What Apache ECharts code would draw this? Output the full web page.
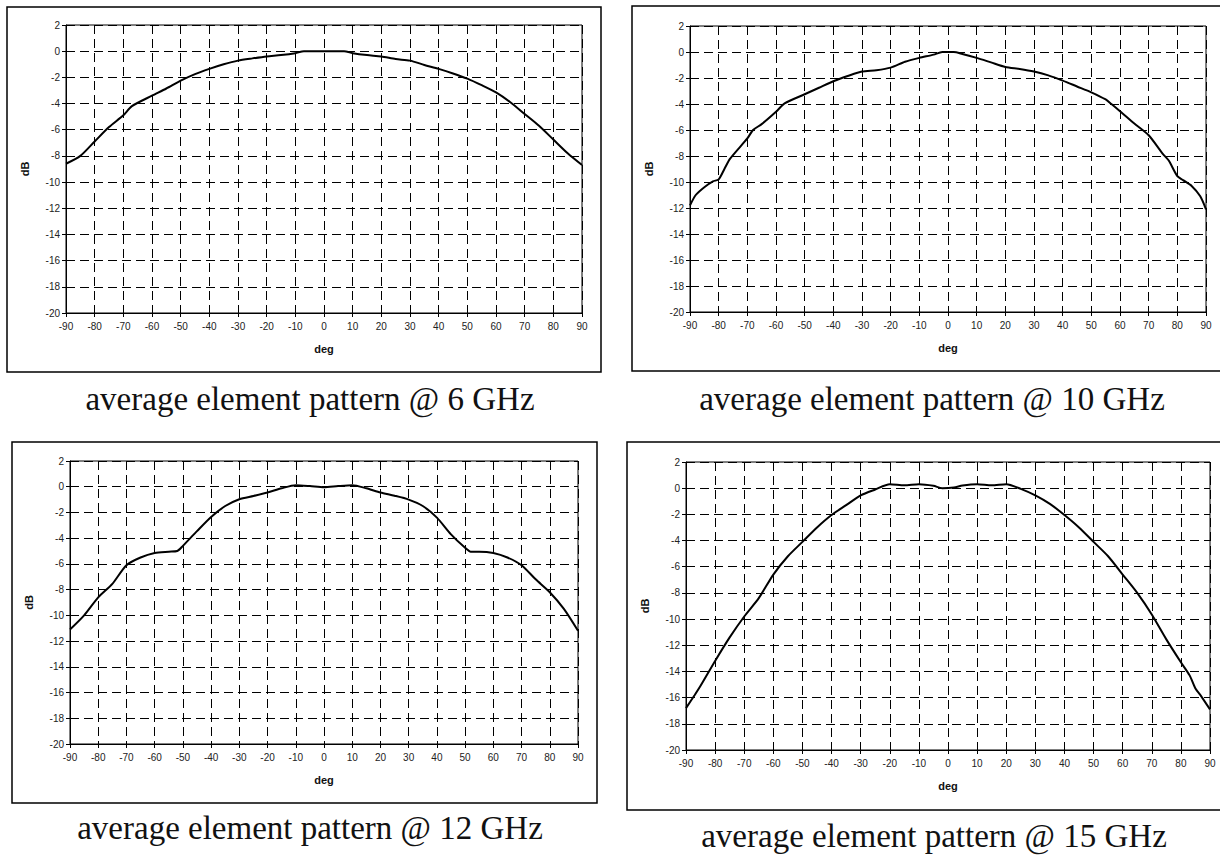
<!DOCTYPE html>
<html>
<head>
<meta charset="utf-8">
<script src="https://cdn.jsdelivr.net/npm/echarts@6/dist/echarts.min.js"></script>
<style>
html,body{margin:0;padding:0;background:#fff;}
#chart{width:1220px;height:855px;}
</style>
</head>
<body>
<div id="chart"></div>
<script>
// ---- data ----
const titles = [
  'average element pattern @ 6 GHz',
  'average element pattern @ 10 GHz',
  'average element pattern @ 12 GHz',
  'average element pattern @ 15 GHz'
];
const xTickMin = -90, xTickMax = 90, xTickStep = 10;
const yTickMin = -20, yTickMax = 2, yTickStep = 2;

const angles6 = [-90,-85,-80,-75,-70,-67,-60,-55,-50,-45,-40,-35,-30,-25,-20,-15,-10,-7,0,7,10,15,20,25,30,35,40,45,50,55,60,65,70,75,80,85,90];
const db6 = [-8.6,-8.0,-6.9,-5.8,-4.9,-4.2,-3.4,-2.85,-2.25,-1.75,-1.35,-1.0,-0.72,-0.55,-0.4,-0.3,-0.15,0,0,0,-0.15,-0.3,-0.4,-0.6,-0.72,-1.05,-1.35,-1.7,-2.1,-2.6,-3.15,-3.9,-4.8,-5.7,-6.75,-7.8,-8.7];

const angles10 = [-90,-88,-85,-82,-80,-78,-76,-70,-68,-65,-60,-57,-50,-45,-40,-35,-30,-25,-20,-15,-10,-5,-2,2,5,10,15,20,25,30,35,40,45,50,55,57,60,65,70,75,77,80,82,85,88,90];
const db10 = [-11.8,-11.0,-10.4,-9.95,-9.8,-9.0,-8.2,-6.65,-6.0,-5.55,-4.6,-3.95,-3.25,-2.75,-2.25,-1.85,-1.5,-1.4,-1.2,-0.75,-0.45,-0.2,0,0,-0.15,-0.45,-0.8,-1.15,-1.3,-1.5,-1.8,-2.2,-2.65,-3.1,-3.65,-4.0,-4.55,-5.5,-6.4,-7.85,-8.35,-9.55,-9.85,-10.3,-11.1,-12.1];

const angles12 = [-90,-85,-80,-75,-70,-65,-60,-55,-52,-50,-45,-40,-35,-30,-25,-20,-15,-10,-5,0,5,10,15,20,25,30,35,40,45,50,52,55,60,65,70,75,80,85,90];
const db12 = [-11.1,-10.0,-8.6,-7.55,-6.1,-5.5,-5.15,-5.05,-5.0,-4.6,-3.45,-2.35,-1.5,-0.97,-0.72,-0.45,-0.12,0.12,0.05,-0.05,0.05,0.12,-0.12,-0.45,-0.7,-1.0,-1.5,-2.4,-3.7,-4.75,-5.05,-5.05,-5.15,-5.5,-6.1,-7.2,-8.2,-9.5,-11.2];

const angles15 = [-90,-87,-85,-80,-75,-70,-65,-60,-55,-50,-45,-40,-35,-30,-25,-20,-15,-10,-5,-2,2,5,10,15,20,25,30,35,40,45,50,55,60,65,70,75,80,83,85,87,90];
const db15 = [-16.8,-15.8,-15.1,-13.2,-11.4,-9.8,-8.4,-6.6,-5.2,-4.1,-3.0,-2.05,-1.3,-0.55,-0.1,0.3,0.22,0.3,0.18,0,0.05,0.2,0.3,0.22,0.3,-0.05,-0.55,-1.2,-2.05,-3.0,-4.1,-5.2,-6.6,-8.0,-9.65,-11.55,-13.3,-14.3,-15.3,-15.9,-16.9];

const panelAngles = [angles6, angles10, angles12, angles15];
const panelValues = [db6, db10, db12, db15];

// ---- layout ----
const grids = [
  {left: 66,  top: 25,  width: 516, height: 288},
  {left: 690, top: 26,  width: 516, height: 286},
  {left: 70,  top: 461, width: 508, height: 283},
  {left: 686, top: 462, width: 524, height: 288}
];
const frames = [
  {x: 7,   y: 7,   w: 594, h: 365},
  {x: 632, y: 6,   w: 600, h: 365},
  {x: 12,  y: 442, w: 585, h: 361},
  {x: 627, y: 442, w: 605, h: 368}
];
const titlePos = [
  {x: 305, y: 398},
  {x: 927, y: 398},
  {x: 305, y: 827},
  {x: 929, y: 835}
];

const labelFont = 'Liberation Sans, Arial, sans-serif';
const dash = [9, 5];

const option = {
  animation: false,
  backgroundColor: '#fff',
  grid: grids.map(g => ({left: g.left, top: g.top, width: g.width, height: g.height,
    show: true, borderColor: '#000', borderWidth: 1, backgroundColor: 'transparent'})),
  xAxis: grids.map((g, i) => ({
    gridIndex: i, type: 'value', min: xTickMin, max: xTickMax, interval: xTickStep,
    name: 'deg', nameLocation: 'middle', nameGap: 30,
    nameTextStyle: {fontFamily: labelFont, fontWeight: 'bold', fontSize: 11, color: '#111'},
    axisLine: {show: true, onZero: false, lineStyle: {color: '#000', width: 1}},
    axisTick: {show: true, length: 4, inside: false, lineStyle: {color: '#000'}},
    axisLabel: {fontFamily: labelFont, fontSize: 10, color: '#222', margin: 8},
    splitLine: {show: true, lineStyle: {color: '#000', width: 1, type: dash}}
  })),
  yAxis: grids.map((g, i) => ({
    gridIndex: i, type: 'value', min: yTickMin, max: yTickMax, interval: yTickStep,
    name: 'dB', nameLocation: 'middle', nameGap: 36, nameRotate: 90,
    nameTextStyle: {fontFamily: labelFont, fontWeight: 'bold', fontSize: 11, color: '#111'},
    axisLine: {show: true, onZero: false, lineStyle: {color: '#000', width: 1}},
    axisTick: {show: true, length: 4, inside: false, lineStyle: {color: '#000'}},
    axisLabel: {fontFamily: labelFont, fontSize: 10, color: '#222', margin: 6},
    splitLine: {show: true, lineStyle: {color: '#000', width: 1, type: dash}}
  })),
  series: panelAngles.map((ang, i) => ({
    type: 'line', xAxisIndex: i, yAxisIndex: i,
    data: ang.map((a, k) => [a, panelValues[i][k]]),
    showSymbol: false, smooth: 0.25, clip: true,
    lineStyle: {color: '#000', width: 2}
  })),
  title: titles.map((t, i) => ({
    text: t, left: titlePos[i].x, top: titlePos[i].y - 21, textAlign: 'center',
    textStyle: {fontFamily: 'Liberation Serif, Times New Roman, serif', fontWeight: 'normal', fontSize: 33, color: '#111'}
  })),
  graphic: frames.map(f => ({
    type: 'rect', silent: true,
    shape: {x: f.x, y: f.y, width: f.w, height: f.h},
    style: {fill: 'none', stroke: '#000', lineWidth: 1.5}
  }))
};

const chart = echarts.init(document.getElementById('chart'), null, {renderer: 'svg', width: 1220, height: 855});
chart.setOption(option);
</script>
</body>
</html>
